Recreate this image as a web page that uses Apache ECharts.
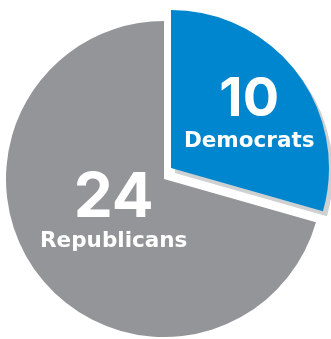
<!DOCTYPE html>
<html>
<head>
<meta charset="utf-8">
<script src="https://cdn.jsdelivr.net/npm/echarts@6/dist/echarts.min.js"></script>
<style>
html,body{margin:0;padding:0;background:#fff;}
#c{width:331px;height:339px;}
</style>
</head>
<body>
<div id="c"></div>
<script>
const categories = ['Democrats', 'Republicans'];
const values = [10, 24];
const sliceColors = ['#0086ce', '#939598'];

const NUM_FONT = 'Inter, "Open Sans", sans-serif';
const TXT_FONT = '"DejaVu Sans", sans-serif';
const chart = echarts.init(document.getElementById('c'), null, {renderer: 'canvas'});

function makeData(idx, extra) {
  return categories.map((name, i) => ({
    name: name,
    value: values[i],
    itemStyle: i === idx
      ? Object.assign({color: sliceColors[i]}, extra || {})
      : {color: 'rgba(0,0,0,0)'},
    label: {show: false}
  }));
}

function labelData(idx, numSize, numLH, pad) {
  return categories.map((name, i) => ({
    name: name,
    value: values[i],
    itemStyle: {color: 'rgba(0,0,0,0)'},
    label: i === idx ? {
      show: true,
      position: 'inside',
      padding: pad,
      formatter: '{n|' + values[i] + '}\n{t|' + name + '}',
      rich: {
        n: {fontFamily: NUM_FONT, fontWeight: 700, fontSize: numSize, color: '#fff', lineHeight: numLH, align: 'center'},
        t: {fontFamily: TXT_FONT, fontWeight: 'bold', fontSize: 21.5, color: '#fff', lineHeight: 26, align: 'center'}
      }
    } : {show: false}
  }));
}

const common = {type: 'pie', startAngle: 90, clockwise: true, silent: true, animation: false,
  labelLine: {show: false}, emphasis: {disabled: true}};

chart.setOption({
  backgroundColor: '#ffffff',
  series: [
    Object.assign({}, common, {center: [164, 179], radius: [0, 158], data: makeData(1)}),
    Object.assign({}, common, {center: [171, 168], radius: [0, 158],
      data: makeData(0, {shadowColor: '#cfd0d2', shadowBlur: 0, shadowOffsetX: 4, shadowOffsetY: 5})}),
    Object.assign({}, common, {center: [171, 168], radius: [0, 190], data: labelData(0, 54, 57, [7, 0, 0, 0])}),
    Object.assign({}, common, {center: [164, 179], radius: [0, 120], data: labelData(1, 62, 60, [0, 0, 12, 0])})
  ]
});
</script>
</body>
</html>
